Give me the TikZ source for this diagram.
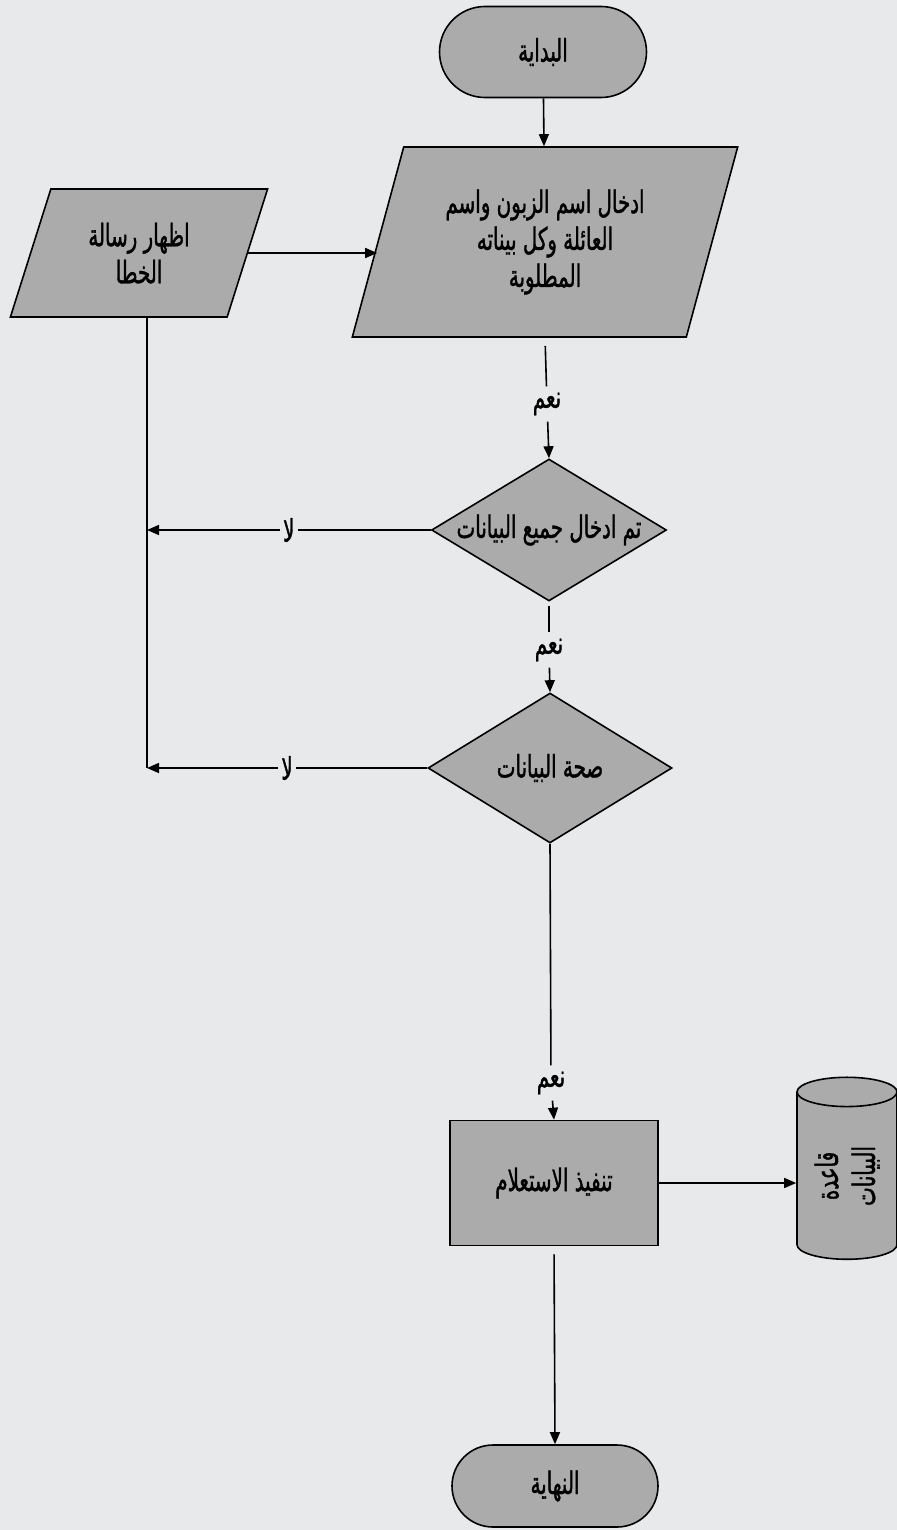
\documentclass[tikz,border=0pt]{standalone}
\usepackage{fontspec}
\TeXXeTstate=1
\newfontfamily\arabicfont[Script=Arabic,FakeStretch=0.64,FakeBold=1.2]{DejaVu Sans}
\usetikzlibrary{shapes.geometric,shapes.misc,arrows.meta}
\definecolor{paper}{HTML}{E8E9EB}
\definecolor{boxfill}{HTML}{ABABAB}
\newcommand\artext[1]{\beginR #1\endR}
\newcommand\slim[1]{\makebox[0pt]{#1}}

\begin{document}
\begin{tikzpicture}[x=0.5pt,y=-0.5pt,
  every node/.style={font=\arabicfont\fontsize{15.5}{18.5}\selectfont},
  shapebox/.style={draw=black,line width=0.8pt,fill=boxfill,inner sep=0pt,align=center},
  terminal/.style={shapebox,rounded rectangle},
  iobox/.style={shapebox,trapezium,trapezium stretches=true},
  decision/.style={shapebox,diamond},
  process/.style={shapebox,rectangle},
  store/.style={shapebox,cylinder,rotate=90,aspect=0.45},
  link/.style={line width=0.8pt},
  arr/.style={link,-{Triangle[length=6pt,width=5pt]}},
  yes/.style={inner sep=3pt},
  no/.style={midway,fill=paper,inner sep=1.5pt}
]
\fill[paper] (0,0) rectangle (897,1530);
\useasboundingbox (0,0) rectangle (897,1530);

% flow nodes
\node[terminal,minimum width=103.5pt,minimum height=45.5pt] (start) at (543,52) {\artext{البداية}};
\node[iobox,trapezium left angle=71,trapezium right angle=109,minimum width=193pt,minimum height=95pt] (inp) at (545,242)
  {\artext{ادخال اسم الزبون واسم}\\\artext{العائلة وكل بيناته}\\\artext{المطلوبة}};
\node[iobox,trapezium left angle=69,trapezium right angle=111,minimum width=129pt,minimum height=64pt] (err) at (139,253)
  {\artext{اظهار رسالة}\\\artext{الخطا}};
\node[decision,minimum width=117.5pt,minimum height=71pt] (d1) at (549,530) {\slim{\artext{تم ادخال جميع البيانات}}};
\node[decision,minimum width=122pt,minimum height=75pt] (d2) at (550,768) {\slim{\artext{صحة البيانات}}};
\node[process,minimum width=104pt,minimum height=62.5pt] (run) at (554,1183) {\artext{تنفيذ الاستعلام}};
\node[store,minimum width=50pt,minimum height=91pt] (db) at (847,1176) {\artext{قاعدة}\\\artext{البيانات}};
\node[terminal,minimum width=103pt,minimum height=41pt] (end) at (555,1486) {\artext{النهاية}};

% "yes" labels on the vertical links
\node[yes] (y1) at (547,404) {\artext{نعم}};
\node[yes] (y2) at (549,650) {\artext{نعم}};
\node[yes] (y3) at (551,1083) {\artext{نعم}};

% collecting line on the left
\coordinate (bus) at (147,768);

% connectors
\draw[arr] (start) -- (inp);
\draw[arr] (err.east) -- (err.east -| inp.west);
\draw[link,shorten <=4pt] (inp.south) -- (y1);
\draw[arr] (y1) -- (d1.north);
\draw[link,shorten <=2pt] (d1.south) -- (y2);
\draw[arr] (y2) -- (d2.north);
\draw[link] (d2.south) -- (y3);
\draw[arr] (y3) -- (run.north);
\draw[arr] (d1.west) -- (d1.west -| bus) node[no] {\artext{لا}};
\draw[arr] (d2.west) -- (d2.west -| bus) node[no] {\artext{لا}};
\draw[link] (err.south -| bus) -- (bus);
\draw[arr] (run.east) -- (run.east -| db.north);
\draw[arr,shorten <=4pt] (run.south) -- (end.north);
\end{tikzpicture}
\end{document}
